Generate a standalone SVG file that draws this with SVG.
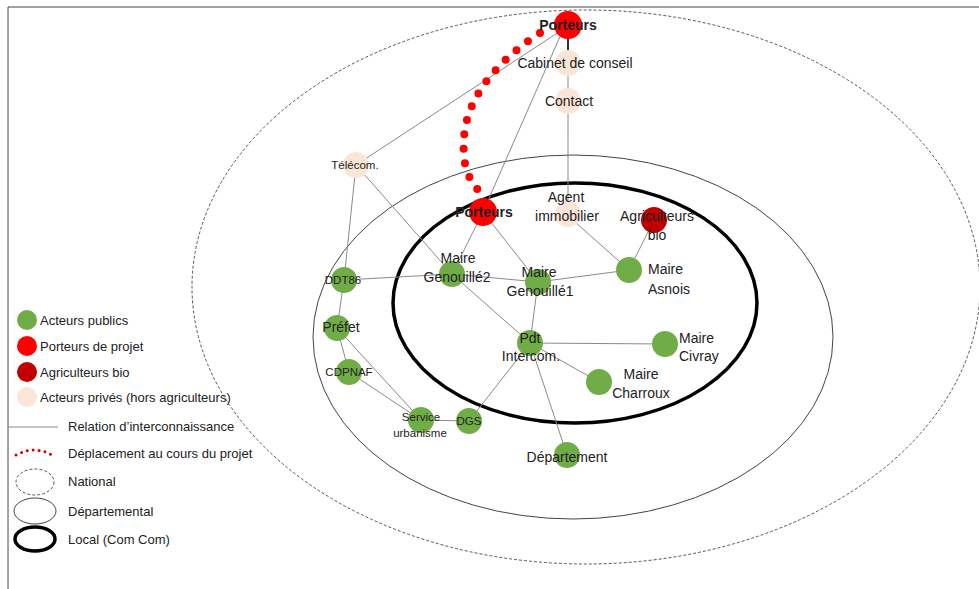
<svg xmlns="http://www.w3.org/2000/svg" width="979" height="589" viewBox="0 0 979 589">
<style>
text{font-family:"Liberation Sans","Open Sans",sans-serif;fill:#222;font-size:14px}
.lbl{text-anchor:middle}
.sm{font-size:11.5px}
.lg{font-size:13px}
.b{font-weight:bold}
.pub{fill:#70AD47}
.port{fill:#FF0000}
.agri{fill:#C00000}
.priv{fill:#FBE5D6}
.edge{stroke:#8a8a8a;stroke-width:1;fill:none}
.dots{stroke:#FF0000;stroke-width:8;stroke-linecap:round;stroke-dasharray:0 14.5;fill:none}
</style>
<rect x="0" y="0" width="979" height="589" fill="#fff"/>
<line x1="8" y1="7" x2="979" y2="7" stroke="#444" stroke-width="1"/>
<line x1="8" y1="7" x2="8" y2="589" stroke="#444" stroke-width="1"/>
<g id="zones">
<ellipse cx="586" cy="287" rx="394" ry="277" fill="none" stroke="#555" stroke-width="1" stroke-dasharray="3 2"/>
<ellipse cx="573" cy="337" rx="260" ry="182" fill="none" stroke="#444" stroke-width="1"/>
<ellipse cx="575" cy="303" rx="182" ry="120" fill="none" stroke="#000" stroke-width="3.5"/>
</g>
<g id="connectors">
<line x1="568" y1="25" x2="568" y2="63" stroke="#333" stroke-width="2"/>
<line class="edge" x1="568" y1="63" x2="568" y2="101"/>
<line class="edge" x1="568" y1="101" x2="568" y2="212"/>
<line class="edge" x1="562" y1="30" x2="356" y2="165"/>
<line class="edge" x1="562" y1="32" x2="483" y2="212"/>
<line class="edge" x1="356" y1="165" x2="344" y2="280"/>
<line class="edge" x1="356" y1="165" x2="452" y2="274"/>
<line class="edge" x1="483" y1="212" x2="452" y2="274"/>
<line class="edge" x1="483" y1="212" x2="538" y2="282"/>
<line class="edge" x1="575" y1="222" x2="629" y2="270"/>
<line class="edge" x1="654" y1="220" x2="629" y2="270"/>
<line class="edge" x1="344" y1="280" x2="452" y2="274"/>
<line class="edge" x1="452" y1="274" x2="538" y2="282"/>
<line class="edge" x1="538" y1="282" x2="629" y2="270"/>
<line class="edge" x1="452" y1="274" x2="530" y2="343"/>
<line class="edge" x1="538" y1="282" x2="530" y2="343"/>
<line class="edge" x1="530" y1="343" x2="665" y2="344"/>
<line class="edge" x1="530" y1="343" x2="599" y2="382"/>
<line class="edge" x1="530" y1="343" x2="469" y2="421"/>
<line class="edge" x1="530" y1="343" x2="567" y2="455"/>
<line class="edge" x1="344" y1="280" x2="337" y2="328"/>
<line class="edge" x1="337" y1="328" x2="349" y2="372"/>
<line class="edge" x1="337" y1="328" x2="421" y2="420"/>
<line class="edge" x1="349" y1="372" x2="421" y2="420"/>
<line class="edge" x1="421" y1="420" x2="469" y2="421"/>
<path class="dots" d="M 540 33 C 495 62, 466 100, 464 138 C 462 165, 468 180, 481 193"/>
</g>
<g id="porteurs-top"><circle class="port" cx="568" cy="25" r="14"/><text class="lbl b" x="568" y="30">Porteurs</text></g>
<g id="cabinet"><circle class="priv" cx="568" cy="63" r="13"/><text class="lbl" x="575" y="68">Cabinet de conseil</text></g>
<g id="contact"><circle class="priv" cx="568" cy="101" r="13"/><text class="lbl" x="569" y="106">Contact</text></g>
<g id="telecom"><circle class="priv" cx="356" cy="165" r="13"/><text class="lbl sm" x="355" y="169">Télécom.</text></g>
<g id="agent"><circle class="priv" cx="568" cy="214" r="13"/><text class="lbl" x="566" y="202">Agent</text><text class="lbl" x="567" y="221">immobilier</text></g>
<g id="porteurs-local"><circle class="port" cx="483" cy="212" r="14"/><text class="lbl b" x="484" y="217">Porteurs</text></g>
<g id="agriculteurs"><circle class="agri" cx="654" cy="220" r="13"/><text class="lbl" x="657" y="221">Agriculteurs</text><text class="lbl" x="657" y="240">bio</text></g>
<g id="genouille2"><circle class="pub" cx="452" cy="274" r="13"/><text class="lbl" x="458" y="263">Maire</text><text class="lbl" x="457" y="282">Genouillé2</text></g>
<g id="genouille1"><circle class="pub" cx="538" cy="282" r="13"/><text class="lbl" x="539" y="277">Maire</text><text class="lbl" x="540" y="296">Genouillé1</text></g>
<g id="asnois"><circle class="pub" cx="629" cy="270" r="13"/><text x="648" y="274">Maire</text><text x="648" y="294">Asnois</text></g>
<g id="ddt86"><circle class="pub" cx="344" cy="280" r="13"/><text class="lbl sm" x="343" y="284">DDT86</text></g>
<g id="prefet"><circle class="pub" cx="337" cy="328" r="13"/><text class="lbl" x="341" y="332">Préfet</text></g>
<g id="cdpnaf"><circle class="pub" cx="349" cy="372" r="13"/><text class="lbl sm" x="349" y="376">CDPNAF</text></g>
<g id="pdt"><circle class="pub" cx="530" cy="343" r="13"/><text class="lbl" x="530" y="343">Pdt</text><text class="lbl" x="531" y="361">Intercom.</text></g>
<g id="civray"><circle class="pub" cx="665" cy="344" r="13"/><text x="679" y="343">Maire</text><text x="679" y="361">Civray</text></g>
<g id="charroux"><circle class="pub" cx="599" cy="382" r="13"/><text class="lbl" x="641" y="379">Maire</text><text class="lbl" x="641" y="398">Charroux</text></g>
<g id="service"><circle class="pub" cx="421" cy="420" r="13"/><text class="lbl sm" x="421" y="421">Service</text><text class="lbl sm" x="420" y="437">urbanisme</text></g>
<g id="dgs"><circle class="pub" cx="469" cy="421" r="13"/><text class="lbl sm" x="469" y="425">DGS</text></g>
<g id="departement"><circle class="pub" cx="567" cy="455" r="13"/><text class="lbl" x="567" y="462">Département</text></g>
<g id="legend">
<circle class="pub" cx="27" cy="320" r="10"/><text class="lg" x="40" y="325">Acteurs publics</text>
<circle class="port" cx="27" cy="346" r="10"/><text class="lg" x="40" y="351">Porteurs de projet</text>
<circle class="agri" cx="27" cy="372" r="10"/><text class="lg" x="40" y="377">Agriculteurs bio</text>
<circle class="priv" cx="27" cy="397" r="10"/><text class="lg" x="40" y="402">Acteurs privés (hors agriculteurs)</text>
<line x1="8" y1="427" x2="58" y2="427" stroke="#8a8a8a" stroke-width="1"/><text class="lg" x="68" y="431">Relation d’interconnaissance</text>
<path d="M 16 455 Q 34 445 52 455" fill="none" stroke="#D00000" stroke-width="3" stroke-linecap="round" stroke-dasharray="0 6"/><text class="lg" x="68" y="458">Déplacement au cours du projet</text>
<ellipse cx="35" cy="482" rx="19" ry="13" fill="none" stroke="#555" stroke-width="1" stroke-dasharray="3 2"/><text class="lg" x="68" y="486">National</text>
<ellipse cx="35" cy="511" rx="21" ry="13" fill="none" stroke="#444" stroke-width="1"/><text class="lg" x="68" y="516">Départemental</text>
<ellipse cx="35" cy="539" rx="20" ry="12" fill="none" stroke="#000" stroke-width="3.5"/><text class="lg" x="68" y="544">Local (Com Com)</text>
</g>
</svg>
